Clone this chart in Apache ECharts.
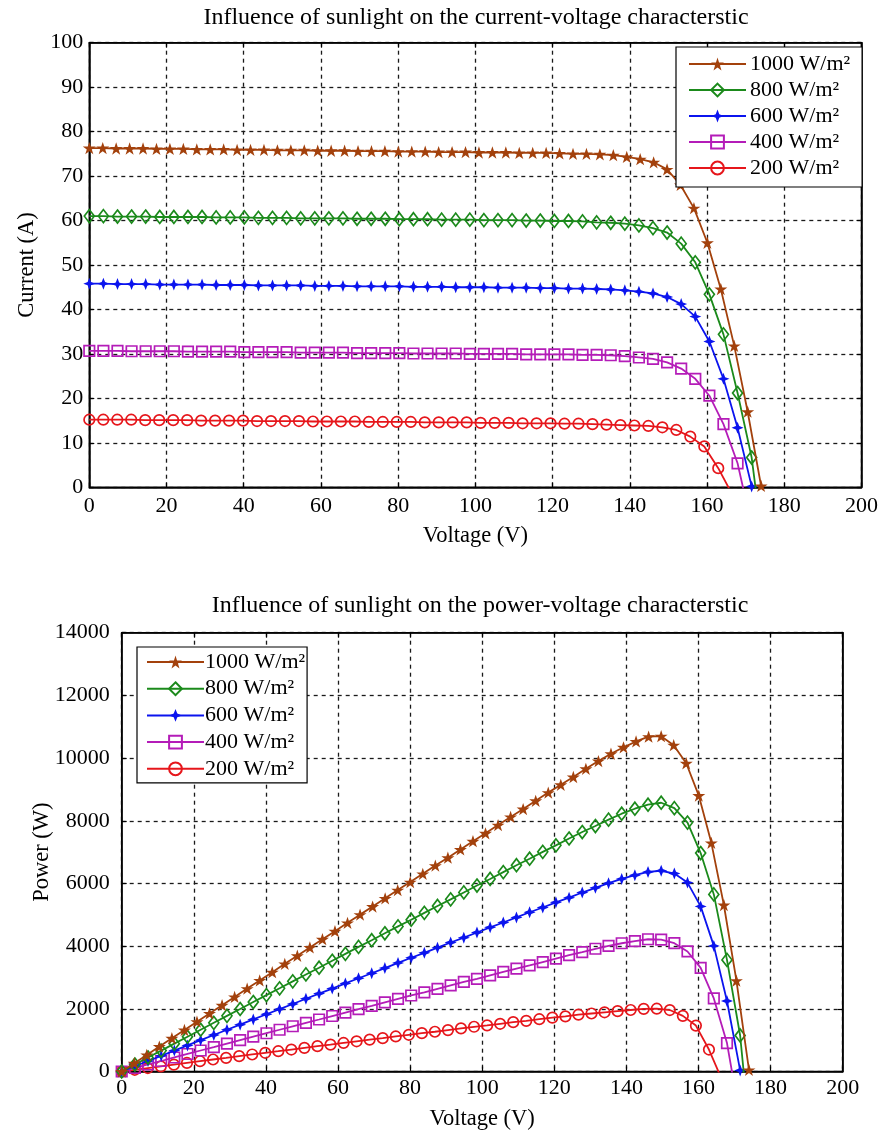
<!DOCTYPE html>
<html>
<head>
<meta charset="utf-8">
<script src="https://cdn.jsdelivr.net/npm/echarts@6/dist/echarts.min.js"></script>
<style>
html,body{margin:0;padding:0;background:#fff;}
#chart{width:890px;height:1133px;}
</style>
</head>
<body>
<div id="chart"></div>
<script>
// ---------- DATA ----------
const seriesNames = ['1000 W/m²', '800 W/m²', '600 W/m²', '400 W/m²', '200 W/m²'];
const xTicks = [0, 20, 40, 60, 80, 100, 120, 140, 160, 180, 200];
const currentTicks = [0, 10, 20, 30, 40, 50, 60, 70, 80, 90, 100];
const powerTicks = [0, 2000, 4000, 6000, 8000, 10000, 12000, 14000];

// voltage samples (V)
const voltage1000 = [0,3.48,6.96,10.44,13.92,17.4,20.88,24.36,27.84,31.32,34.8,38.28,41.76,45.24,48.72,52.2,55.68,59.16,62.64,66.12,69.6,73.08,76.56,80.04,83.52,87,90.48,93.96,97.44,100.92,104.4,107.88,111.36,114.84,118.32,121.8,125.28,128.76,132.24,135.72,139.2,142.68,146.16,149.64,153.12,156.6,160.08,163.56,167.04,170.52,174];
const voltageMid = [0,3.65,7.3,10.95,14.6,18.25,21.9,25.55,29.2,32.85,36.5,40.15,43.8,47.45,51.1,54.75,58.4,62.05,65.7,69.35,73,76.65,80.3,83.95,87.6,91.25,94.9,98.55,102.2,105.85,109.5,113.15,116.8,120.45,124.1,127.75,131.4,135.05,138.7,142.35,146,149.65,153.3,156.95,160.6,164.25,167.9,171.55,175.2];
const voltage200 = [0,3.62,7.24,10.86,14.48,18.1,21.72,25.34,28.96,32.58,36.2,39.82,43.44,47.06,50.68,54.3,57.92,61.54,65.16,68.78,72.4,76.02,79.64,83.26,86.88,90.5,94.12,97.74,101.36,104.98,108.6,112.22,115.84,119.46,123.08,126.7,130.32,133.94,137.56,141.18,144.8,148.42,152.04,155.66,159.28,162.9,166.52];

// current (A)
const current1000 = [76.3,76.3,76.2,76.2,76.2,76.1,76.1,76.1,76.0,76.0,76.0,75.9,75.9,75.9,75.8,75.8,75.8,75.7,75.7,75.7,75.6,75.6,75.6,75.5,75.5,75.5,75.4,75.4,75.4,75.3,75.3,75.3,75.2,75.2,75.2,75.1,75.0,75.0,74.9,74.7,74.3,73.8,73.1,71.5,68.0,62.8,55.0,44.6,31.8,17.0,0.3];
const current800 = [61.0,61.0,60.9,60.9,60.9,60.8,60.8,60.8,60.8,60.7,60.7,60.7,60.6,60.6,60.6,60.5,60.5,60.5,60.5,60.4,60.4,60.4,60.3,60.3,60.3,60.2,60.2,60.2,60.1,60.1,60.1,60.0,60.0,59.9,59.9,59.8,59.6,59.5,59.3,58.9,58.3,57.3,54.8,50.6,43.4,34.4,21.2,6.7,-18];
const current600 = [45.8,45.8,45.7,45.7,45.7,45.6,45.6,45.6,45.6,45.5,45.5,45.5,45.4,45.4,45.4,45.4,45.3,45.3,45.3,45.2,45.2,45.2,45.2,45.1,45.1,45.1,45.0,45.0,45.0,44.9,44.9,44.9,44.8,44.8,44.7,44.7,44.6,44.5,44.3,44.0,43.6,42.8,41.2,38.4,32.8,24.4,13.4,0.2];
const current400 = [30.7,30.7,30.7,30.6,30.6,30.6,30.6,30.5,30.5,30.5,30.5,30.4,30.4,30.4,30.4,30.3,30.3,30.3,30.3,30.2,30.2,30.2,30.2,30.1,30.1,30.1,30.1,30.0,30.0,30.0,30.0,29.9,29.9,29.9,29.9,29.8,29.8,29.7,29.5,29.2,28.9,28.1,26.7,24.4,20.6,14.2,5.4,-8.7];
const current200 = [15.2,15.2,15.2,15.2,15.1,15.1,15.1,15.1,15.0,15.0,15.0,15.0,14.9,14.9,14.9,14.9,14.8,14.8,14.8,14.8,14.7,14.7,14.7,14.7,14.6,14.6,14.6,14.6,14.5,14.5,14.5,14.4,14.4,14.4,14.3,14.3,14.2,14.1,14.0,13.9,13.8,13.5,12.9,11.4,9.2,4.3,-1.6];

// power (W)
const power1000 = [0,266,530,796,1061,1324,1589,1854,2116,2380,2645,2906,3170,3434,3693,3957,4221,4478,4742,5005,5262,5525,5788,6043,6306,6569,6822,7085,7347,7599,7861,8123,8374,8636,8898,9147,9396,9657,9905,10138,10343,10530,10684,10699,10412,9835,8804,7295,5312,2899,52];
const power800 = [0,223,445,667,889,1110,1332,1553,1775,1994,2216,2437,2654,2876,3097,3312,3533,3754,3975,4189,4409,4630,4842,5062,5282,5493,5713,5933,6142,6362,6581,6789,7008,7215,7434,7640,7831,8036,8225,8384,8512,8575,8401,7942,6970,5650,3560,1149,-3154];
const power600 = [0,167,334,500,667,832,999,1165,1332,1495,1661,1827,1989,2154,2320,2486,2646,2811,2976,3135,3300,3465,3630,3786,3951,4115,4271,4435,4599,4753,4917,5080,5233,5396,5547,5710,5860,6010,6144,6263,6366,6405,6316,6027,5268,4008,2250,34];
const power400 = [0,112,224,335,447,559,670,779,891,1002,1113,1221,1332,1443,1553,1659,1770,1880,1991,2094,2205,2315,2425,2527,2637,2747,2857,2957,3066,3176,3285,3383,3492,3602,3711,3807,3916,4011,4092,4157,4219,4205,4093,3830,3308,2332,907,-1493];
const power200 = [0,55,110,165,219,273,328,383,434,489,543,597,647,701,755,809,857,911,964,1018,1064,1118,1171,1224,1268,1321,1374,1427,1470,1522,1575,1616,1668,1720,1760,1812,1851,1889,1926,1962,1998,2004,1961,1775,1465,701,-266];

// ---------- STYLE ----------
const FONT = "'Liberation Serif','Times New Roman',serif";
const styles = [
  {color:'#a3410c', symbol:'path://M50,0 L61.8,35.4 L99,35.4 L69,57.3 L80.4,92.7 L50,70.8 L19.6,92.7 L31,57.3 L1,35.4 L38.2,35.4 Z', size:13, fill:'#a3410c', bw:0},
  {color:'#1b8a1b', symbol:'diamond', size:[10,13], fill:'rgba(0,0,0,0)', bw:1.7},
  {color:'#0b14ee', symbol:'path://M50,0 L64,36 L100,50 L64,64 L50,100 L36,64 L0,50 L36,36 Z', size:12, fill:'#0b14ee', bw:0},
  {color:'#b41cb8', symbol:'rect', size:10.5, fill:'rgba(0,0,0,0)', bw:1.7},
  {color:'#e6161b', symbol:'circle', size:10.5, fill:'rgba(0,0,0,0)', bw:1.7}
];

const ivVolt = [voltage1000, voltageMid, voltageMid, voltageMid, voltage200];
const ivCurr = [current1000, current800, current600, current400, current200];
const pvPow = [power1000, power800, power600, power400, power200];

function makeSeries(idx, xs, ys, gi) {
  const s = styles[idx];
  return {
    type: 'line', name: seriesNames[idx],
    xAxisIndex: gi, yAxisIndex: gi,
    data: ys.map((y, i) => [xs[i], y]),
    symbol: s.symbol, symbolSize: s.size, symbolKeepAspect: true,
    showSymbol: true, showAllSymbol: true, clip: true,
    lineStyle: {color: s.color, width: 1.8},
    itemStyle: {color: s.fill, borderColor: s.color, borderWidth: s.bw},
    emphasis: {disabled: true},
    z: 3 + (4 - idx) * 0.01
  };
}

const series = [];
for (let i = 0; i < 5; i++) series.push(makeSeries(i, ivVolt[i], ivCurr[i], 0));
for (let i = 0; i < 5; i++) series.push(makeSeries(i, ivVolt[i], pvPow[i], 1));

const grids = [
  {left: 89.3, top: 42.7, width: 772.2, height: 444.6, show: true, borderColor: '#000', borderWidth: 1.5, backgroundColor: '#fff'},
  {left: 121.7, top: 632.7, width: 721, height: 438.8, show: true, borderColor: '#000', borderWidth: 1.5, backgroundColor: '#fff'}
];

const gridLine = {show: true, lineStyle: {color: '#1a1a1a', type: [4, 4], width: 1.3}};
const tickStyle = {show: true, inside: true, length: 5, lineStyle: {color: '#000', width: 1.2}};
const labelStyle = {fontFamily: FONT, fontSize: 22, color: '#000', formatter: function (v) { return String(v); }};

function valueAxis(gi, min, max, interval, extra) {
  return Object.assign({
    type: 'value', gridIndex: gi, min: min, max: max, interval: interval,
    axisLine: {show: true, onZero: false, lineStyle: {color: '#000', width: 1.5}},
    axisTick: tickStyle,
    splitLine: gridLine,
    axisLabel: Object.assign({}, labelStyle),
    nameMoveOverlap: false,
    nameTextStyle: {fontFamily: FONT, fontSize: 22.5, color: '#000'}
  }, extra);
}
function tickOnlyAxis(gi, min, max, interval, pos) {
  return {
    type: 'value', gridIndex: gi, min: min, max: max, interval: interval, position: pos,
    axisLine: {show: true, onZero: false, lineStyle: {color: '#000', width: 1.5}},
    axisTick: tickStyle, splitLine: {show: false}, axisLabel: {show: false}
  };
}

const xMin = xTicks[0], xMax = xTicks[xTicks.length - 1], xStep = xTicks[1] - xTicks[0];
const cMax = currentTicks[currentTicks.length - 1], cStep = currentTicks[1] - currentTicks[0];
const pMax = powerTicks[powerTicks.length - 1], pStep = powerTicks[1] - powerTicks[0];

const option = {
  animation: false,
  backgroundColor: '#fff',
  textStyle: {fontFamily: FONT},
  grid: grids,
  xAxis: [
    valueAxis(0, xMin, xMax, xStep, {position: 'bottom', name: 'Voltage (V)', nameLocation: 'middle', nameGap: 37, axisLabel: Object.assign({}, labelStyle, {margin: 8})}),
    valueAxis(1, xMin, xMax, xStep, {position: 'bottom', name: 'Voltage (V)', nameLocation: 'middle', nameGap: 36, axisLabel: Object.assign({}, labelStyle, {margin: 6})}),
    tickOnlyAxis(0, xMin, xMax, xStep, 'top'),
    tickOnlyAxis(1, xMin, xMax, xStep, 'top')
  ],
  yAxis: [
    valueAxis(0, 0, cMax, cStep, {position: 'left', name: 'Current (A)', nameLocation: 'middle', nameGap: 51, axisLabel: Object.assign({}, labelStyle, {margin: 6})}),
    valueAxis(1, 0, pMax, pStep, {position: 'left', name: 'Power (W)', nameLocation: 'middle', nameGap: 68, axisLabel: Object.assign({}, labelStyle, {margin: 12})}),
    tickOnlyAxis(0, 0, cMax, cStep, 'right'),
    tickOnlyAxis(1, 0, pMax, pStep, 'right')
  ],
  legend: [
    {
      data: seriesNames, orient: 'vertical', left: 676, top: 47,
      backgroundColor: '#fff', borderColor: '#000', borderWidth: 1.2,
      padding: [5, 12, 7, 12], itemWidth: 57, itemHeight: 16, itemGap: 2,
      textStyle: {fontFamily: FONT, fontSize: 22, color: '#000', lineHeight: 24, padding: [0, 0, 0, -1]},
      selectedMode: false, z: 10
    },
    {
      data: seriesNames, orient: 'vertical', left: 137, top: 647,
      backgroundColor: '#fff', borderColor: '#000', borderWidth: 1.2,
      padding: [3, 2, 2, 9], itemWidth: 57, itemHeight: 16, itemGap: 2.7,
      textStyle: {fontFamily: FONT, fontSize: 22, color: '#000', lineHeight: 24, padding: [0, 0, 0, -4]},
      selectedMode: false, z: 10
    }
  ],
  graphic: [
    {type: 'text', x: 476, y: 18, style: {text: 'Influence of sunlight on the current-voltage characterstic', font: '24px ' + FONT, fill: '#000', textAlign: 'center', textVerticalAlign: 'middle'}},
    {type: 'text', x: 480, y: 606, style: {text: 'Influence of sunlight on the power-voltage characterstic', font: '24px ' + FONT, fill: '#000', textAlign: 'center', textVerticalAlign: 'middle'}}
  ],
  series: series
};

const chart = echarts.init(document.getElementById('chart'), null, {renderer: 'canvas'});
chart.setOption(option);
</script>
</body>
</html>
